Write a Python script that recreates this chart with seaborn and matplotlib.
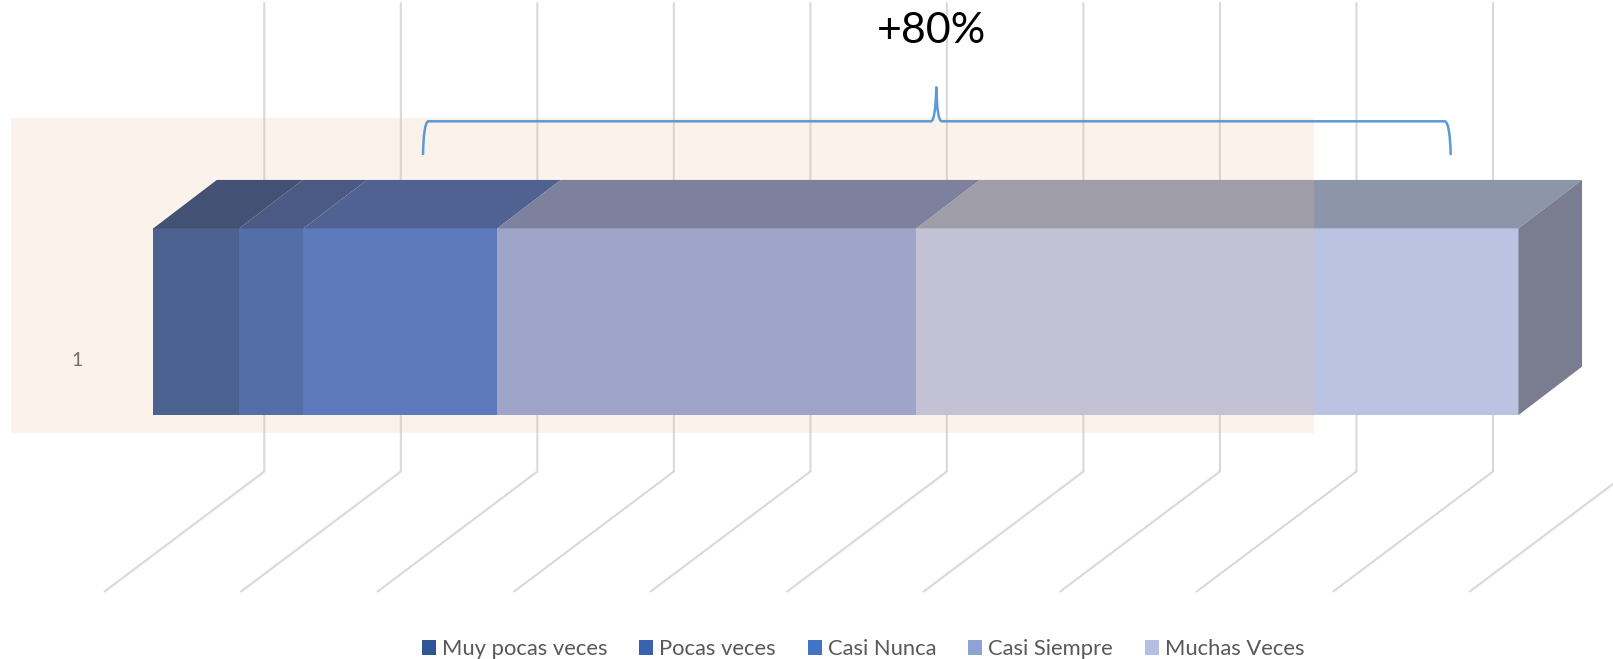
import matplotlib
matplotlib.use("Agg")
import matplotlib.pyplot as plt
from matplotlib.path import Path
from matplotlib.patches import PathPatch, Rectangle
import seaborn as sns

sns.set_theme(style="white")
plt.rcParams["font.family"] = ["Lato", "DejaVu Sans"]

W, H = 1613, 659

categories = ["1"]
series_names = ["Muy pocas veces", "Pocas veces", "Casi Nunca", "Casi Siempre", "Muchas Veces"]
series_values = [6.3, 4.7, 14.2, 30.7, 44.1]
front_colors = ["#244C8D", "#2F5BAA", "#3868C2", "#8C9FD4", "#BAC4E2"]
legend_colors = ["#2F5597", "#3A62AE", "#4472C4", "#8FA2D4", "#B4BFE2"]
top_colors = ["#1A366A", "#22427E", "#2A4C8E", "#64739E", "#8C95AA"]
side_color = "#7A7D90"
grid_ticks = [0, 10, 20, 30, 40, 50, 60, 70, 80, 90, 100]
annotation_text = "+80%"

# scale of the single full-figure axes
PX_PER_X = 13.652
PX_PER_Y = 186.7
X0_PX = 153.3
YC_PX = 321.7
DEPTH_X = 63.5 / PX_PER_X
DEPTH_Y = 48.4 / PX_PER_Y
WALL_X = 111.0 / PX_PER_X
FLOOR_X = 159.7 / PX_PER_X
WALL_TOP = (3 - YC_PX) / PX_PER_Y
WALL_BOT = (471.5 - YC_PX) / PX_PER_Y
FLOOR_BOT = (591.5 - YC_PX) / PX_PER_Y

fig = plt.figure(figsize=(W / 100, H / 100), dpi=100, facecolor="white")
ax = fig.add_axes([0, 0, 1, 1])

# gridlines: back wall and floor
for t in grid_ticks:
    ax.plot([t + WALL_X, t + WALL_X, t + WALL_X - FLOOR_X],
            [WALL_TOP, WALL_BOT, FLOOR_BOT],
            color="#D9D9D9", lw=1.5, zorder=1, solid_joinstyle="miter")

# stacked bar front faces, with 3D top faces and end cap
left = 0.0
for name, value, fc, tc in zip(series_names, series_values, front_colors, top_colors):
    sns.barplot(x=[value], y=categories, orient="h", left=left, width=1, color=fc,
                saturation=1, errorbar=None, label=name, ax=ax, zorder=3,
                linewidth=0)
    ax.fill([left, left + value, left + value + DEPTH_X, left + DEPTH_X],
            [-0.5, -0.5, -0.5 - DEPTH_Y, -0.5 - DEPTH_Y],
            color=tc, lw=0, zorder=3)
    left += value
ax.fill([left, left + DEPTH_X, left + DEPTH_X, left],
        [-0.5, -0.5 - DEPTH_Y, 0.5 - DEPTH_Y, 0.5],
        color=side_color, lw=0, zorder=3)

ax.set_xlim(-X0_PX / PX_PER_X, (W - X0_PX) / PX_PER_X)
ax.set_ylim((H - YC_PX) / PX_PER_Y, -YC_PX / PX_PER_Y)
ax.set_axis_off()

def frac(px, py):
    return (px / W, 1 - py / H)

# category label
ax.text(*frac(77, 361), categories[0], transform=ax.transAxes, ha="center", va="center",
        fontsize=14, color="#595959", zorder=4)

# peach plot-area overlay
x0, y1 = frac(11, 118.3)
x1, y0 = frac(1314, 433)
ax.add_patch(Rectangle((x0, y0), x1 - x0, y1 - y0, transform=ax.transAxes,
                       facecolor="#EBBEA0", alpha=0.2, lw=0, zorder=5))

# brace annotation
verts = [(423, 155), (423.5, 124), (428, 121.3), (931, 121.3), (935.5, 121), (936.3, 87.3),
         (937, 121), (941.7, 121.3), (1445, 121.3), (1450, 123), (1450.7, 155)]
codes = [Path.MOVETO, Path.CURVE3, Path.CURVE3, Path.LINETO, Path.CURVE3, Path.CURVE3,
         Path.CURVE3, Path.CURVE3, Path.LINETO, Path.CURVE3, Path.CURVE3]
ax.add_patch(PathPatch(Path([frac(*v) for v in verts], codes), transform=ax.transAxes,
                       facecolor="none", edgecolor="#5B9BD5", lw=1.8, zorder=6,
                       capstyle="butt", joinstyle="round"))

ax.text(*frac(931.5, 31), annotation_text, transform=ax.transAxes, ha="center", va="center",
        fontsize=31, color="black", zorder=7)

# legend
font_pt = 15.8
font_px = font_pt * 100 / 72
handles = [c.patches[0] for c in ax.containers]
leg = ax.legend(handles, series_names, ncol=5, loc="center", bbox_to_anchor=frac(863, 649),
                bbox_transform=ax.transAxes, frameon=False, fontsize=font_pt,
                labelcolor="#595959", handlelength=14 / font_px, handleheight=14 / font_px,
                handletextpad=6 / font_px, columnspacing=32 / font_px, borderpad=0,
                borderaxespad=0)
for lh, c in zip(leg.legend_handles, legend_colors):
    lh.set_facecolor(c)
    lh.set_edgecolor("none")
leg.set_zorder(7)

fig.savefig("out.png", dpi=100, facecolor="white")
